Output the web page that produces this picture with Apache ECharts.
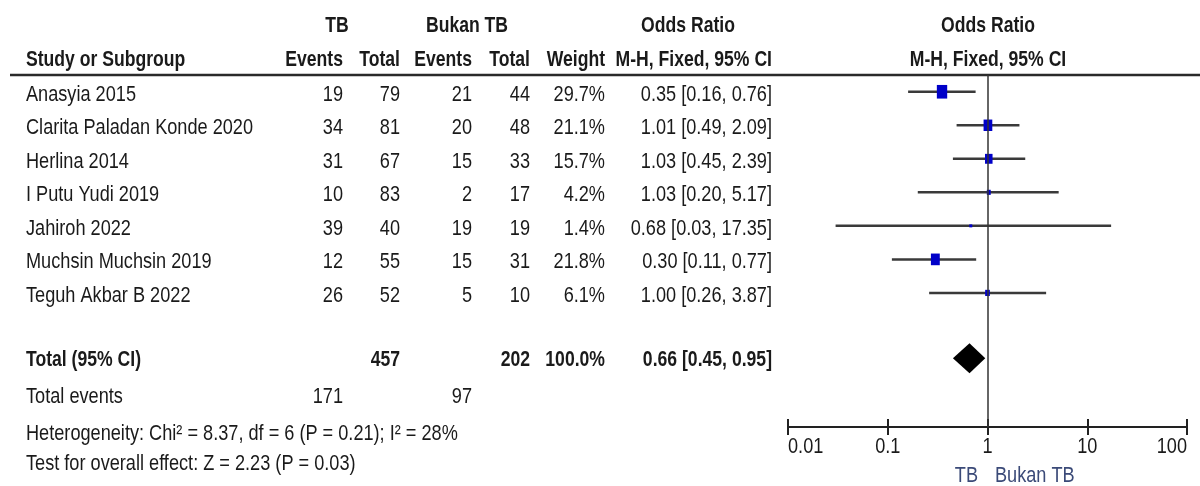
<!DOCTYPE html>
<html>
<head>
<meta charset="utf-8">
<script src="https://cdn.jsdelivr.net/npm/echarts@6/dist/echarts.min.js"></script>
<style>
  html, body { margin: 0; background: #fff; }
  #forest { width: 1200px; height: 486px; }
</style>
</head>
<body>
<div id="forest"></div>
<script>
// study rows
const studies = ['Anasyia 2015', 'Clarita Paladan Konde 2020', 'Herlina 2014', 'I Putu Yudi 2019',
  'Jahiroh 2022', 'Muchsin Muchsin 2019', 'Teguh Akbar B 2022'];
const tbEvents = [19, 34, 31, 10, 39, 12, 26];
const tbTotal = [79, 81, 67, 83, 40, 55, 52];
const bukanEvents = [21, 20, 15, 2, 19, 15, 5];
const bukanTotal = [44, 48, 33, 17, 19, 31, 10];
const weights = [29.7, 21.1, 15.7, 4.2, 1.4, 21.8, 6.1];
const oddsRatio = [0.35, 1.01, 1.03, 1.03, 0.68, 0.30, 1.00];
const ciLower = [0.16, 0.49, 0.45, 0.20, 0.03, 0.11, 0.26];
const ciUpper = [0.76, 2.09, 2.39, 5.17, 17.35, 0.77, 3.87];

// pooled
const totalLabel = 'Total (95% CI)';
const totalTb = 457;
const totalBukan = 202;
const totalWeight = 100.0;
const totalOR = [0.66, 0.45, 0.95];
const totalEvents = [171, 97];
const heterogeneity = 'Heterogeneity: Chi\u00B2 = 8.37, df = 6 (P = 0.21); I\u00B2 = 28%';
const overallEffect = 'Test for overall effect: Z = 2.23 (P = 0.03)';

// axis
const axisTicks = [0.01, 0.1, 1, 10, 100];

const FONT = '"Liberation Sans Narrow", "Liberation Sans", Arial, sans-serif';
const TEXT = '#1a1a1a';

// row positions on the (hidden) y axis
const totalRow = 7.95;
const eventsRow = 9.1;
const hetRow = 10.2;
const testRow = 11.1;

const fmtCI = (o, l, u) => o.toFixed(2) + ' [' + l.toFixed(2) + ', ' + u.toFixed(2) + ']';

const chart = echarts.init(document.getElementById('forest'));

chart.setOption({
  animation: false,
  grid: { left: 788, right: 13, top: 75, bottom: 59 },
  xAxis: [{
    type: 'log', logBase: 10, min: 0.01, max: 100,
    axisLine: { onZero: false, lineStyle: { color: '#222', width: 2 } },
    axisTick: { show: true, inside: false, length: 8, lineStyle: { color: '#222', width: 2 } },
    splitLine: { show: false },
    axisLabel: { show: false }
  }, {
    type: 'log', logBase: 10, min: 0.01, max: 100, position: 'bottom',
    axisLine: { show: false, onZero: false },
    axisTick: { show: true, inside: true, length: 8, lineStyle: { color: '#222', width: 2 } },
    splitLine: { show: false },
    axisLabel: { show: false }
  }],
  yAxis: { type: 'value', inverse: true, min: -0.5, max: 10, show: false },
  series: [{
    type: 'custom',
    xAxisIndex: 0,
    data: studies.map((s, i) => [i, oddsRatio[i], ciLower[i], ciUpper[i], weights[i]]),
    encode: { x: [1, 2, 3], y: 0 },
    renderItem: function (params, api) {
      const row = api.value(0);
      const lo = api.coord([api.value(2), row]);
      const hi = api.coord([api.value(3), row]);
      const mid = api.coord([api.value(1), row]);
      const s = Math.sqrt(api.value(4));
      const bw = Math.max(3, s * 1.9);
      const bh = Math.max(3, s * 2.5);
      return {
        type: 'group',
        children: [
          { type: 'line', shape: { x1: lo[0], y1: lo[1], x2: hi[0], y2: hi[1] },
            style: { stroke: '#3a3a3a', lineWidth: 2.5 } },
          { type: 'rect', shape: { x: mid[0] - bw / 2, y: mid[1] - bh / 2, width: bw, height: bh },
            style: { fill: '#0000c8' } }
        ]
      };
    },
    markLine: {
      silent: true, symbol: 'none', label: { show: false },
      lineStyle: { color: '#333', width: 1.5, type: 'solid' },
      data: [{ xAxis: 1 }]
    }
  }, {
    type: 'custom',
    xAxisIndex: 0,
    data: [[totalRow, totalOR[0], totalOR[1], totalOR[2]]],
    encode: { x: [1, 2, 3], y: 0 },
    renderItem: function (params, api) {
      const row = api.value(0);
      const lo = api.coord([api.value(2), row]);
      const hi = api.coord([api.value(3), row]);
      const mid = api.coord([api.value(1), row]);
      const h = 15;
      return {
        type: 'polygon',
        shape: { points: [[lo[0], lo[1]], [mid[0], mid[1] - h], [hi[0], hi[1]], [mid[0], mid[1] + h]] },
        style: { fill: '#000' }
      };
    }
  }]
});

// table text, placed on the same row scale as the plot
const rowY = v => chart.convertToPixel({ yAxisIndex: 0 }, v);
const colX = v => chart.convertToPixel({ xAxisIndex: 0 }, v);
const colRight = [343, 400, 472, 530, 605, 772];
const elements = [];

function txt(x, y, str, align, bold, color) {
  elements.push({
    type: 'text', x: x, y: y, scaleX: bold ? 0.8 : 0.825,
    style: {
      text: str, x: 0, y: 0, align: align || 'left', verticalAlign: 'middle',
      fontFamily: FONT, fontSize: 22, fontWeight: bold ? 'bold' : 'normal',
      fill: color || TEXT
    }
  });
}

// headers
txt(337, 26, 'TB', 'center', true);
txt(467, 26, 'Bukan TB', 'center', true);
txt(688, 26, 'Odds Ratio', 'center', true);
txt(988, 26, 'Odds Ratio', 'center', true);
txt(26, 60, 'Study or Subgroup', 'left', true);
['Events', 'Total', 'Events', 'Total', 'Weight', 'M-H, Fixed, 95% CI'].forEach((h, k) => {
  txt(colRight[k], 60, h, 'right', true);
});
txt(988, 60, 'M-H, Fixed, 95% CI', 'center', true);

elements.push({
  type: 'line', shape: { x1: 10, y1: 75, x2: 1200, y2: 75 },
  style: { stroke: '#2a2a2a', lineWidth: 2.5 }
});

studies.forEach((s, i) => {
  const y = rowY(i) + 3;
  txt(26, y, s, 'left');
  const cells = [tbEvents[i], tbTotal[i], bukanEvents[i], bukanTotal[i],
    weights[i].toFixed(1) + '%', fmtCI(oddsRatio[i], ciLower[i], ciUpper[i])];
  cells.forEach((c, k) => txt(colRight[k], y, String(c), 'right'));
});

let y = rowY(totalRow) + 2;
txt(26, y, totalLabel, 'left', true);
txt(colRight[1], y, String(totalTb), 'right', true);
txt(colRight[3], y, String(totalBukan), 'right', true);
txt(colRight[4], y, totalWeight.toFixed(1) + '%', 'right', true);
txt(colRight[5], y, fmtCI(totalOR[0], totalOR[1], totalOR[2]), 'right', true);

y = rowY(eventsRow);
txt(26, y, 'Total events', 'left');
txt(colRight[0], y, String(totalEvents[0]), 'right');
txt(colRight[2], y, String(totalEvents[1]), 'right');

txt(26, rowY(hetRow), heterogeneity, 'left');
txt(26, rowY(testRow), overallEffect, 'left');

// tick labels of the log axis, first flush left, last flush right
axisTicks.forEach((t, k) => {
  const align = k === 0 ? 'left' : (k === axisTicks.length - 1 ? 'right' : 'center');
  txt(colX(t), 447, String(t), align);
});

// favours labels under the axis
txt(978, 476, 'TB', 'right', false, '#3b4a78');
txt(995, 476, 'Bukan TB', 'left', false, '#3b4a78');

chart.setOption({ graphic: { elements: elements } });
</script>
</body>
</html>
